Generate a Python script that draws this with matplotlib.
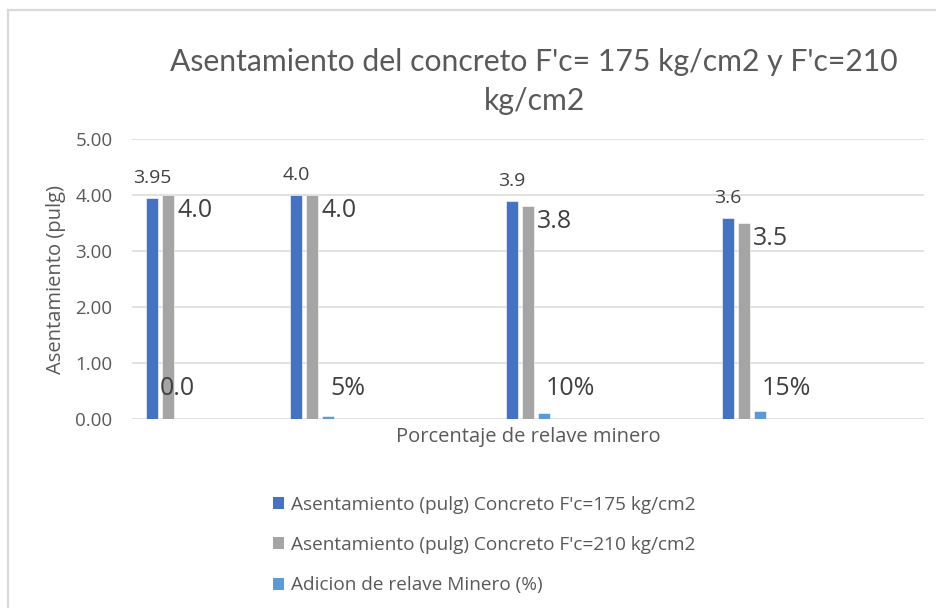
import numpy as np
import matplotlib
matplotlib.use("Agg")
import matplotlib.pyplot as plt
from matplotlib.lines import Line2D
from matplotlib.patches import Patch

# Slump test results per tailings percentage
slump_175 = [3.95, 4.0, 3.9, 3.6]
slump_210 = [4.0, 4.0, 3.8, 3.5]
tailings_frac = [0.0, 0.05, 0.10, 0.15]

series_names = [
    "Asentamiento (pulg) Concreto F'c=175 kg/cm2",
    "Asentamiento (pulg) Concreto F'c=210 kg/cm2",
    "Adicion de relave Minero (%)",
]
y_ticks = [0, 1, 2, 3, 4, 5]

# layout: group centres on the category axis (axis spans 0..22)
group_x = np.array([1, 5, 11, 17])
pitch = 0.444
bar_w = 0.35

c_blue = "#4472C4"
c_gray = "#A5A5A5"
c_light = "#5B9BD5"
txt = "#595959"
lbl = "#404040"

plt.rcParams["font.family"] = ["Open Sans", "DejaVu Sans"]

W, H = 937, 608
fig = plt.figure(figsize=(W / 100, H / 100), dpi=100)
fig.patch.set_facecolor("white")

# chart frame (top and left edges visible)
fig.add_artist(Line2D([8 / W, 8 / W], [0, 1 - 10 / H], color="#d9d9d9", lw=1.6,
                      transform=fig.transFigure))
fig.add_artist(Line2D([8 / W, 1], [1 - 10 / H, 1 - 10 / H], color="#d9d9d9", lw=1.6,
                      transform=fig.transFigure))

ax = fig.add_axes([132 / W, 189 / H, 792 / W, 279.7 / H])
ax.set_xlim(0, 22)
ax.set_ylim(0, 5)

ax.bar(group_x - pitch, slump_175, bar_w, color=c_blue, edgecolor="white",
       linewidth=0.4, zorder=3)
ax.bar(group_x, slump_210, bar_w, color=c_gray, edgecolor="white",
       linewidth=0.4, zorder=3)
ax.bar(group_x + pitch, tailings_frac, bar_w, color=c_light, edgecolor="white",
       linewidth=0.4, zorder=3)

for x, v in zip(group_x - pitch, slump_175):
    ax.annotate(f"{v:g}" if v % 1 else f"{v:.1f}", (x, v), xytext=(0, 8),
                textcoords="offset points", ha="center", va="bottom",
                fontsize=14, color=lbl)

for x, v in zip(group_x + bar_w / 2, slump_210):
    ax.annotate(f"{v:.1f}", (x, v), xytext=(2, -11), textcoords="offset points",
                ha="left", va="center", fontsize=18, color=lbl)

for i, (x, v) in enumerate(zip(group_x + pitch, tailings_frac)):
    text = f"{v:.0%}" if v else f"{v:.1f}"
    dx = -13 if i == 0 else 6
    ax.annotate(text, (x - bar_w / 2, 0), xytext=(dx, 22), textcoords="offset points",
                ha="left", va="center", fontsize=18, color=lbl)

ax.set_yticks(y_ticks)
ax.set_yticklabels([f"{t:.2f}" for t in y_ticks])
ax.set_xticks([])
ax.grid(axis="y", color="#d9d9d9", lw=1.1, zorder=0)
ax.tick_params(axis="y", length=0, pad=14, labelsize=13.5, labelcolor=txt)
for s in ax.spines.values():
    s.set_visible(False)

ax.set_ylabel("Asentamiento (pulg)", fontsize=14.5, color=txt, labelpad=7)
ax.set_xlabel("Porcentaje de relave minero", fontsize=14.5, color=txt, labelpad=6)

fig.text(534 / W, 1 - 62 / H, "Asentamiento del concreto F'c= 175 kg/cm2 y F'c=210",
         ha="center", va="center", fontsize=21.7, color=txt, family="Lato")
fig.text(534 / W, 1 - 101 / H, "kg/cm2", ha="center", va="center", fontsize=21.7,
         color=txt, family="Lato")

handles = [Patch(facecolor=c) for c in (c_blue, c_gray, c_light)]
fig.legend(handles, series_names, loc="upper left", bbox_to_anchor=(263 / W, 1 - 486 / H),
           frameon=False, fontsize=13.7, labelcolor=txt, handlelength=0.62,
           handleheight=0.62, handletextpad=0.35, labelspacing=1.18, borderpad=0)

fig.savefig("out.png", dpi=100, facecolor="white")
